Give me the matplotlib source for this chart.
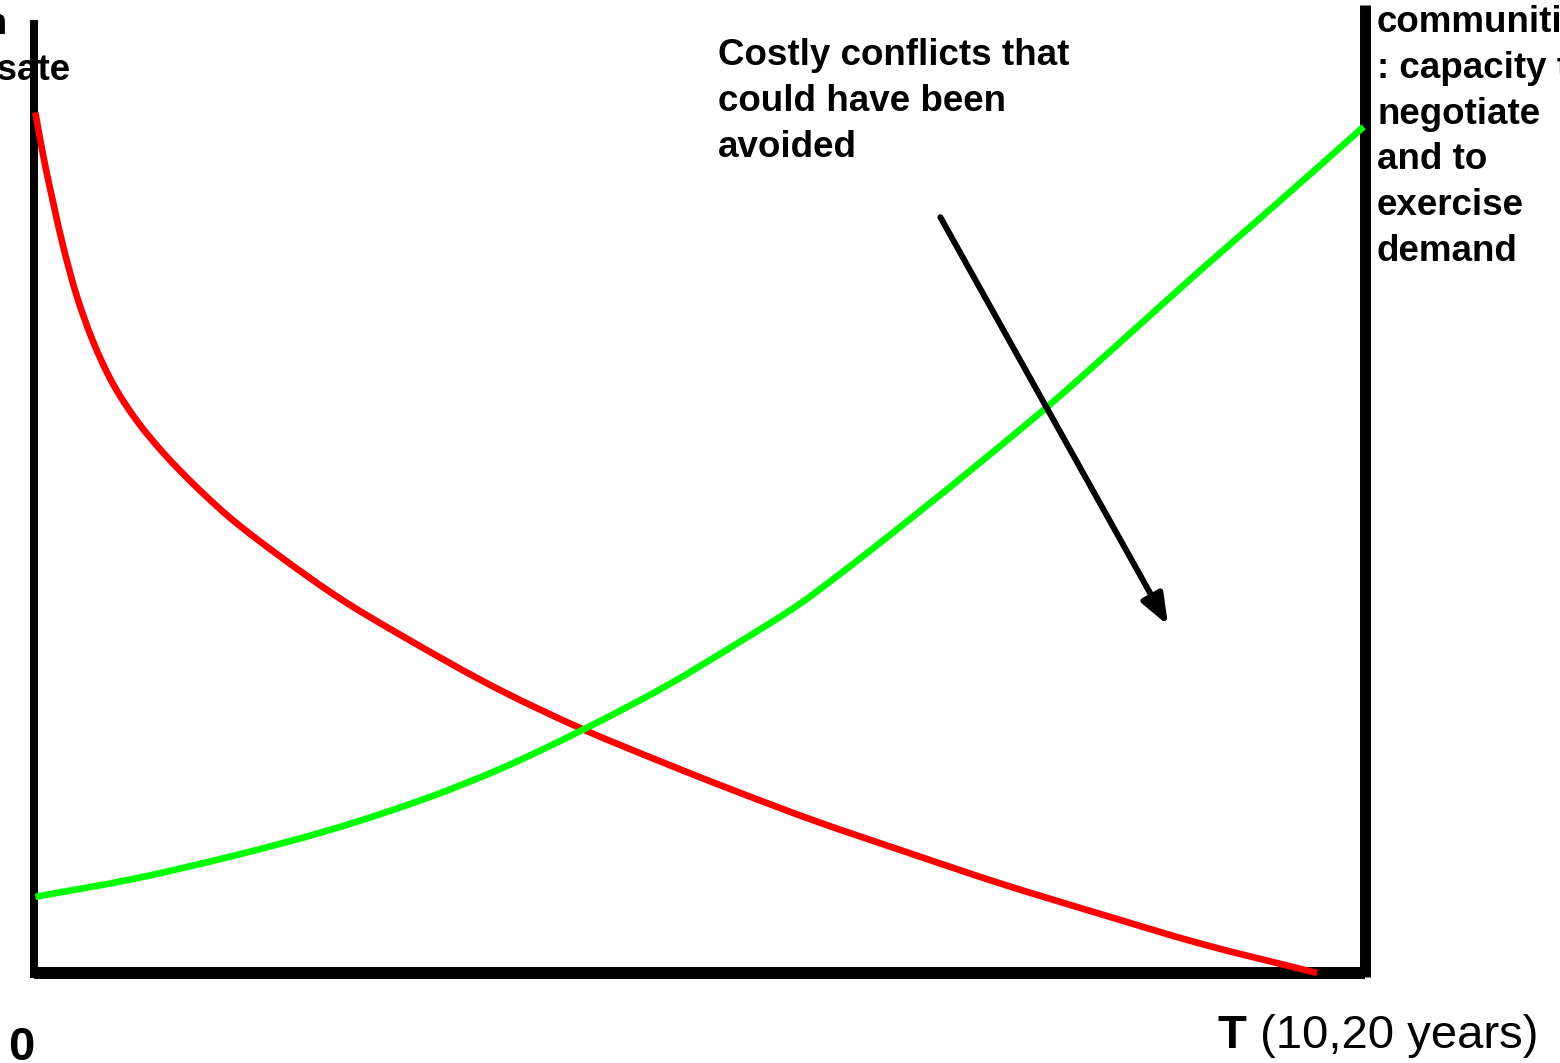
import matplotlib

matplotlib.use("Agg")

import matplotlib.pyplot as plt
import numpy as np
from matplotlib.patches import PathPatch
from matplotlib.path import Path

plt.rcParams["font.family"] = ["Liberation Sans", "DejaVu Sans"]

# time as a fraction of T, level as a fraction of the plot height
red_t = [0.001, 0.007, 0.014, 0.022, 0.032, 0.044, 0.059, 0.077, 0.097, 0.122, 0.147,
         0.185, 0.232, 0.275, 0.350, 0.412, 0.476, 0.525, 0.588, 0.651, 0.726, 0.801,
         0.876, 0.964]
red_level = [0.903, 0.857, 0.811, 0.762, 0.711, 0.664, 0.619, 0.580, 0.546, 0.510, 0.478,
             0.437, 0.391, 0.355, 0.297, 0.256, 0.219, 0.192, 0.159, 0.129, 0.094, 0.062,
             0.031, 0.0]

green_t = [0.001, 0.072, 0.147, 0.222, 0.298, 0.350, 0.412, 0.476, 0.525, 0.576, 0.603,
           0.657, 0.712, 0.767, 0.821, 0.876, 0.931, 0.999]
green_level = [0.080, 0.098, 0.122, 0.150, 0.185, 0.214, 0.255, 0.302, 0.343, 0.388, 0.416,
               0.475, 0.537, 0.601, 0.668, 0.737, 0.804, 0.888]

arrow_start = (0.681, 0.793)
arrow_end = (0.852, 0.365)

conflict_label = "Costly conflicts that\ncould have been\navoided"
community_label = "communities\n: capacity to\nnegotiate\nand to\nexercise\ndemand"
state_label = "Authorities\n: capacity to\nregulate,\nand to plan\nto compensate"
origin_label = "0"
end_label = "T"
end_unit = " (10,20 years)"


def smooth_path(xs, ys):
    # monotone cubic (Fritsch-Carlson) through the read points, as Bezier segments
    x = np.asarray(xs, float)
    y = np.asarray(ys, float)
    h = np.diff(x)
    d = np.diff(y) / h
    m = np.empty_like(y)
    m[0], m[-1] = d[0], d[-1]
    for i in range(1, len(x) - 1):
        if d[i - 1] * d[i] <= 0:
            m[i] = 0.0
        else:
            w1 = 2 * h[i] + h[i - 1]
            w2 = h[i] + 2 * h[i - 1]
            m[i] = (w1 + w2) / (w1 / d[i - 1] + w2 / d[i])
    verts = [(x[0], y[0])]
    codes = [Path.MOVETO]
    for i in range(len(x) - 1):
        verts += [(x[i] + h[i] / 3, y[i] + m[i] * h[i] / 3),
                  (x[i + 1] - h[i] / 3, y[i + 1] - m[i + 1] * h[i] / 3),
                  (x[i + 1], y[i + 1])]
        codes += [Path.CURVE4] * 3
    return Path(verts, codes)


W, H = 1560, 1063
fig = plt.figure(figsize=(W / 100, H / 100), dpi=100, facecolor="white")
ax = fig.add_axes([34 / W, (H - 973) / H, 1331 / W, 953 / H])
ax.set_xlim(0, 1)
ax.set_ylim(0, 1)
ax.axis("off")

# frame: left, bottom and the taller right post
ax.plot([0, 0], [-0.005, 1.0], color="black", lw=5.8, solid_capstyle="butt", clip_on=False)
ax.plot([0, 1.0], [0, 0], color="black", lw=8.6, solid_capstyle="butt", clip_on=False)
ax.plot([1.0, 1.0], [-0.004, 1.016], color="black", lw=7.9, solid_capstyle="butt", clip_on=False)

for xs, ys, col in [(red_t, red_level, "#ff0000"), (green_t, green_level, "#00ff00")]:
    ax.add_patch(PathPatch(smooth_path(xs, ys), facecolor="none", edgecolor=col,
                           lw=4.8, capstyle="butt", clip_on=False, zorder=3))

ax.annotate(
    "",
    xy=arrow_end,
    xytext=arrow_start,
    arrowprops=dict(arrowstyle="-|>,head_length=0.9,head_width=0.35", color="black",
                    lw=4.3, mutation_scale=20, shrinkA=0, shrinkB=0),
    zorder=4,
)

fs = 26.5
ls = 1.4
# va="baseline" anchors the last line of a multi-line text
fig.text(718 / W, 1 - 157 / H, conflict_label, fontsize=fs, fontweight="bold",
         ha="left", va="baseline", linespacing=ls)
fig.text(1377 / W, 1 - 261 / H, community_label, fontsize=fs, fontweight="bold",
         ha="left", va="baseline", linespacing=ls)
fig.text(70 / W, 1 - 80 / H, state_label, fontsize=fs, fontweight="bold",
         ha="right", va="baseline", multialignment="left", linespacing=ls)

fig.text(8 / W, 1 - 1060 / H, origin_label, fontsize=34, fontweight="bold",
         ha="left", va="baseline")
fig.text(1218 / W, 1 - 1048 / H, end_label, fontsize=34, fontweight="bold",
         ha="left", va="baseline")
fig.text(1247 / W, 1 - 1048 / H, end_unit, fontsize=34, ha="left", va="baseline")

fig.savefig("out.png", dpi=100, facecolor="white")
